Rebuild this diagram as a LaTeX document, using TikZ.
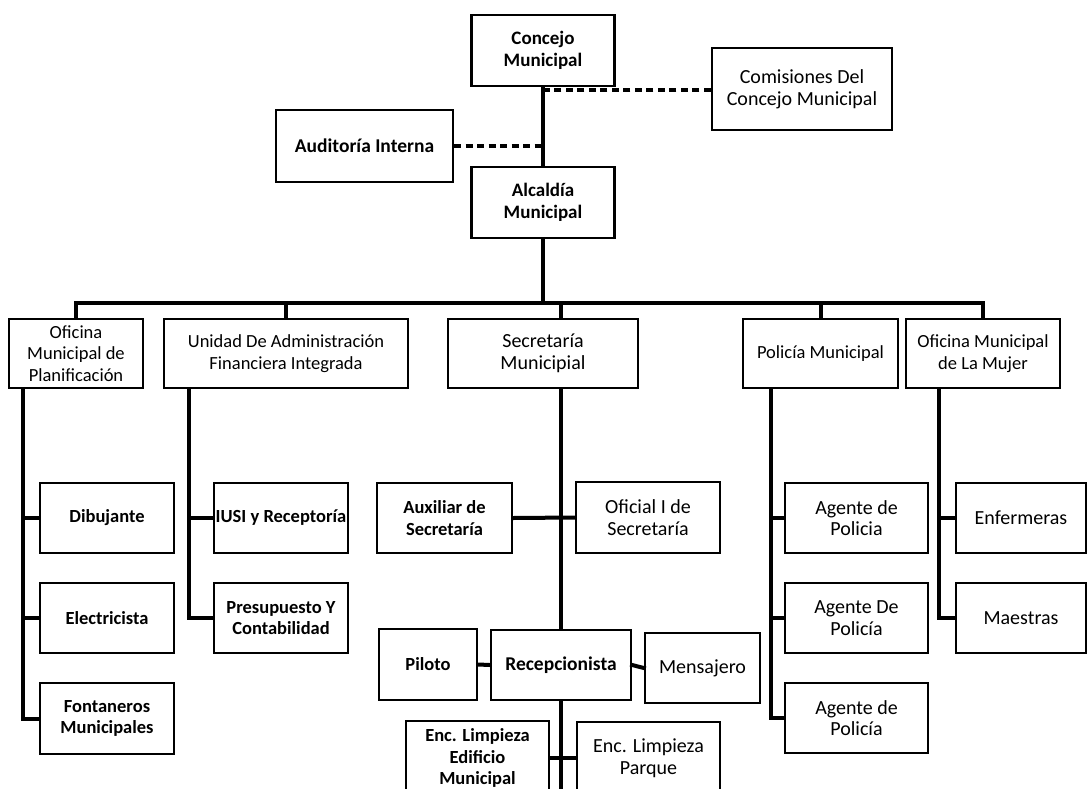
\documentclass[tikz,border=0pt]{standalone}
\usepackage{fontspec}
\setmainfont{Carlito}
\begin{document}
\begin{tikzpicture}[x=1pt,y=-1pt,
  box/.style={draw=black,line width=2.2pt,fill=white,align=center,inner sep=2pt,
    font=\fontsize{18.5}{21.7}\selectfont},
  bigbox/.style={box,font=\fontsize{20}{21.7}\selectfont},
  bbox/.style={box,font=\fontsize{18.5}{21.7}\selectfont\bfseries},
  conn/.style={line width=4pt,line cap=rect},
  dashconn/.style={line width=4.5pt,dash pattern=on 7pt off 4.5pt}]
\useasboundingbox (0,0) rectangle (1088,788);
\clip (0,0) rectangle (1088,788);
% top level
\node[bbox,minimum width=143,minimum height=71,font=\fontsize{19}{22}\selectfont\bfseries] (conc) at (543,50.5) {Concejo\\Municipal};
\node[bigbox,minimum width=180,minimum height=82] (com) at (802,89) {Comisiones Del\\Concejo Municipal};
\node[bbox,minimum width=177,minimum height=72,font=\fontsize{19.5}{22}\selectfont\bfseries] (aud) at (364.5,146) {Auditoría Interna};
\node[bbox,minimum width=143,minimum height=71,font=\fontsize{19}{22}\selectfont\bfseries] (alc) at (543,202.5) {Alcaldía\\Municipal};
% second level
\node[box,minimum width=134,minimum height=69] (planif) at (76,353.5) {Oficina\\Municipal de\\Planificación};
\node[box,minimum width=244,minimum height=69] (udafi) at (286,353.5) {Unidad De Administración\\Financiera Integrada};
\node[bigbox,minimum width=190,minimum height=69] (secr) at (543,353.5) {Secretaría\\Municipial};
\node[box,minimum width=155,minimum height=69] (pol) at (820.5,353.5) {Policía Municipal};
\node[box,minimum width=154,minimum height=69] (mujer) at (983,353.5) {Oficina Municipal\\de La Mujer};
% planificacion
\node[bbox,minimum width=134,minimum height=70] (dib) at (107,518) {Dibujante};
\node[bbox,minimum width=134,minimum height=70] (elec) at (107,618) {Electricista};
\node[bbox,minimum width=134,minimum height=71] (font) at (107,718.5) {Fontaneros\\Municipales};
% udafi
\node[bbox,minimum width=134,minimum height=70,inner sep=0pt] (iusi) at (281,518) {IUSI y Receptoría};
\node[bbox,minimum width=134,minimum height=70] (pres) at (281,618) {Presupuesto Y\\Contabilidad};
% secretaria
\node[bbox,minimum width=135,minimum height=70] (aux) at (444.5,518) {Auxiliar de\\Secretaría};
\node[bigbox,minimum width=144,minimum height=71] (ofi) at (648,517.5) {Oficial I de\\Secretaría};
\node[bbox,minimum width=98,minimum height=71] (pil) at (428,664.5) {Piloto};
\node[bbox,minimum width=140,minimum height=70,font=\fontsize{19.5}{21.7}\selectfont\bfseries] (rec) at (561,665) {Recepcionista};
\node[bigbox,minimum width=115,minimum height=70] (men) at (702.5,668) {Mensajero};
\node[bbox,minimum width=143,minimum height=74] (encE) at (477.5,758) {Enc. Limpieza\\Edificio\\Municipal};
\node[bigbox,minimum width=143,minimum height=72] (encP) at (648.5,758) {Enc. Limpieza\\Parque};
% policia
\node[bigbox,minimum width=143,minimum height=70] (ag1) at (856.5,518) {Agente de\\Policia};
\node[bigbox,minimum width=143,minimum height=70] (ag2) at (856.5,618) {Agente De\\Policía};
\node[bigbox,minimum width=143,minimum height=70] (ag3) at (856.5,718) {Agente de\\Policía};
% mujer
\node[bigbox,minimum width=130,minimum height=70] (enf) at (1021,518) {Enfermeras};
\node[bigbox,minimum width=130,minimum height=70] (mae) at (1021,618) {Maestras};
% connectors top
\draw[conn] (conc.south) -- (alc.north);
\draw[dashconn] (com.west |- 0,90) -- (conc.south |- 0,90);
\draw[dashconn] (aud.east) -- (aud.east -| conc.south);
\coordinate (bus) at (0,303);
\draw[conn] (alc.south) -- (alc.south |- bus);
\draw[conn] (planif.north) -- (planif.north |- bus) -- (mujer.north |- bus) -- (mujer.north);
\draw[conn] (udafi.north |- bus) -- (udafi.north);
\draw[conn] (rec.north |- bus) -- (rec.north |- secr.north);
\draw[conn] (pol.north |- bus) -- (pol.north);
% planificacion branch
\coordinate (pv) at ([xshift=15]planif.south west);
\draw[conn] (pv) |- (font.west);
\draw[conn] (dib.west) -- (dib.west -| pv);
\draw[conn] (elec.west) -- (elec.west -| pv);
% udafi branch
\coordinate (uv) at ([xshift=26]udafi.south west);
\draw[conn] (uv) |- (pres.west);
\draw[conn] (iusi.west) -- (iusi.west -| uv);
% secretaria branch
\draw[conn] (rec.north |- secr.south) -- (rec.north);
\draw[conn] (aux.east) -- (ofi.west);
\draw[conn] (pil.east) -- (rec.west);
\draw[conn] (rec.east) -- (men.west);
\draw[conn] (rec.south) -- ++(0,100);
\draw[conn] (encE.east) -- (encP.west);
% policia branch
\coordinate (pov) at ([xshift=29]pol.south west);
\draw[conn] (pov) |- (ag3.west);
\draw[conn] (ag1.west) -- (ag1.west -| pov);
\draw[conn] (ag2.west) -- (ag2.west -| pov);
% mujer branch
\coordinate (mv) at ([xshift=34]mujer.south west);
\draw[conn] (mv) |- (mae.west);
\draw[conn] (enf.west) -- (enf.west -| mv);
\end{tikzpicture}
\end{document}
